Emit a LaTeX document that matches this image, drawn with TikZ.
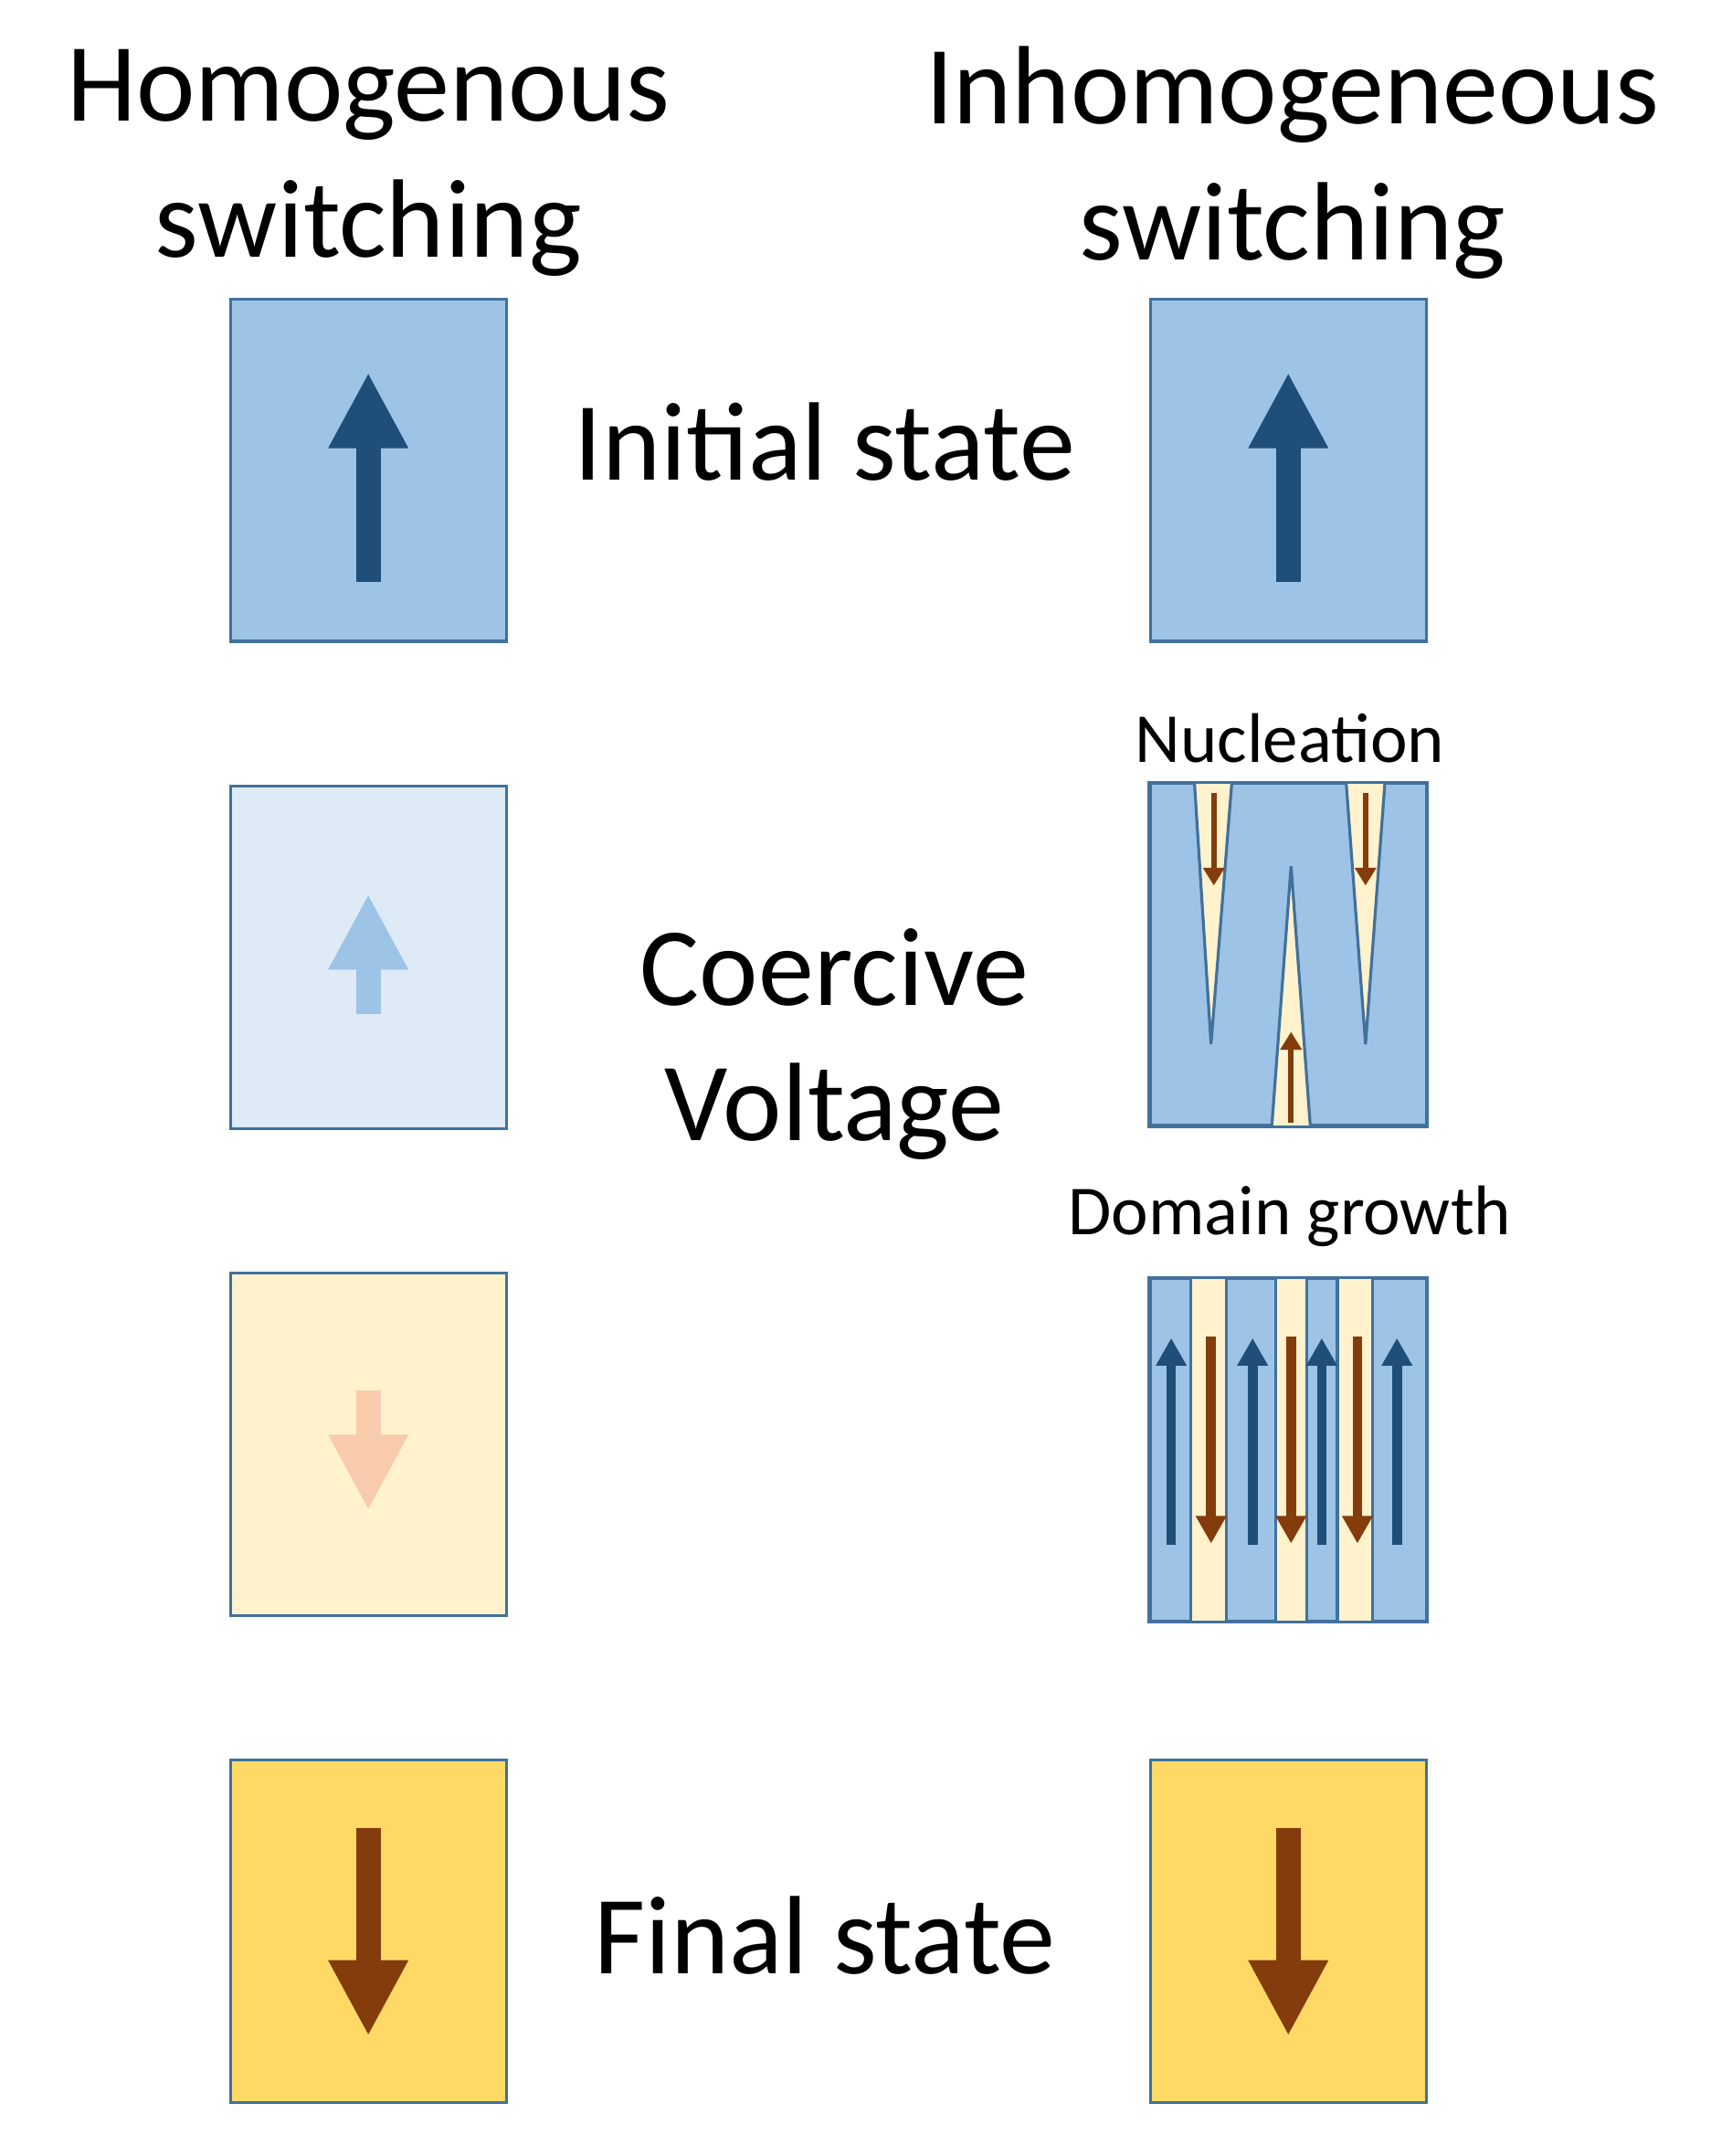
\documentclass[tikz,border=0pt]{standalone}
\usepackage{fontspec}
\setmainfont{Carlito}
\usetikzlibrary{arrows.meta,calc}
\definecolor{edge}{HTML}{41719C}
\definecolor{upfill}{HTML}{9DC3E6}
\definecolor{paleblue}{HTML}{DEEBF7}
\definecolor{paleyellow}{HTML}{FFF2CC}
\definecolor{gold}{HTML}{FFD966}
\definecolor{darkblue}{HTML}{1F4E79}
\definecolor{brown}{HTML}{843C0C}
\definecolor{salmon}{HTML}{F8CBAD}
\begin{document}
\begin{tikzpicture}[x=0.02cm, y=-0.02cm,
    box/.style = {draw=edge, line width=1.2pt, minimum width=4cm, minimum height=4.96cm, inner sep=0pt},
    big/.style = {line width=0.36cm, -{Triangle[length=1.1cm, width=1.08cm]}},
    small/.style = {line width=0.08cm, -{Triangle[length=0.26cm, width=0.3cm]}},
    mid/.style = {line width=0.14cm, -{Triangle[length=0.4cm, width=0.42cm]}},
    big text/.style = {font=\fontsize{46}{56}\selectfont, align=center},
    label/.style = {font=\fontsize{29}{34}\selectfont}]
    \useasboundingbox (0,0) rectangle (1240,1563);
    % Titles
    \node[big text] (homo) at (267,118) {Homogenous\\switching};
    \node[big text] (inhomo) at (937,118) {Inhomogeneous\\switching};
    \node[big text] (init) at (598,320) {Initial state};
    \node[big text] (coer) at (605,757) {Coercive\\Voltage};
    \node[big text] (final) at (598,1403) {Final state};
    \node[label] (nucl) at (935,535) {Nucleation};
    \node[label] (grow) at (935,882) {Domain growth};

    % Homogenous column
    \node[box, fill=upfill] (h1) at (267,341) {};
    \node[box, fill=paleblue] (h2) at (267,694) {};
    \node[box, fill=paleyellow] (h3) at (267,1047) {};
    \node[box, fill=gold] (h4) at (267,1400) {};
    \draw[big, darkblue] (267,422) -- (267,270);
    \draw[big, upfill] (267,735) -- (267,648);
    \draw[big, salmon] (267,1008) -- (267,1095);
    \draw[big, brown] (267,1325) -- (267,1476);

    % Inhomogeneous column
    \node[box, fill=upfill] (i1) at (934,341) {};
    \node[box, fill=upfill] (i2) at (934,692) {};
    \node[box, fill=upfill] (i3) at (934,1051) {};
    \node[box, fill=gold] (i4) at (934,1400) {};
    \draw[big, darkblue] (934,422) -- (934,270);
    \draw[big, brown] (934,1325) -- (934,1476);

    % Nucleation spikes
    \draw[edge, fill=paleyellow, line width=1.2pt] (866,568) -- (878,757) -- (893,568);
    \draw[edge, fill=paleyellow, line width=1.2pt] (976,568) -- (990,757) -- (1004,568);
    \draw[edge, fill=paleyellow, line width=1.2pt] (922,817) -- (936,628) -- (950,817);
    \draw[small, brown] (880,575) -- (880,642);
    \draw[small, brown] (990,575) -- (990,642);
    \draw[small, brown] (936,814) -- (936,748);
    \draw[edge, line width=1.2pt] (i2.south west) rectangle (i2.north east);

    % Domain stripes
    \foreach \a/\b in {0.151/0.278, 0.455/0.566, 0.676/0.803}
        \fill[paleyellow] ($(i3.north west)!\a!(i3.north east)$) rectangle ($(i3.south west)!\b!(i3.south east)$);
    \foreach \f in {0.151, 0.278, 0.455, 0.566, 0.676, 0.803}
        \draw[edge, line width=1.2pt] ($(i3.north west)!\f!(i3.north east)$) -- ($(i3.south west)!\f!(i3.south east)$);
    \draw[edge, line width=1.2pt] (i3.south west) rectangle (i3.north east);
    \foreach \f in {0.08, 0.372, 0.62, 0.89}
        \draw[mid, darkblue] ($(i3.south west)!\f!(i3.south east)$) ++(0,-56) -- ++(0,-150);
    \foreach \f in {0.223, 0.51, 0.748}
        \draw[mid, brown] ($(i3.north west)!\f!(i3.north east)$) ++(0,43) -- ++(0,150);
\end{tikzpicture}
\end{document}
